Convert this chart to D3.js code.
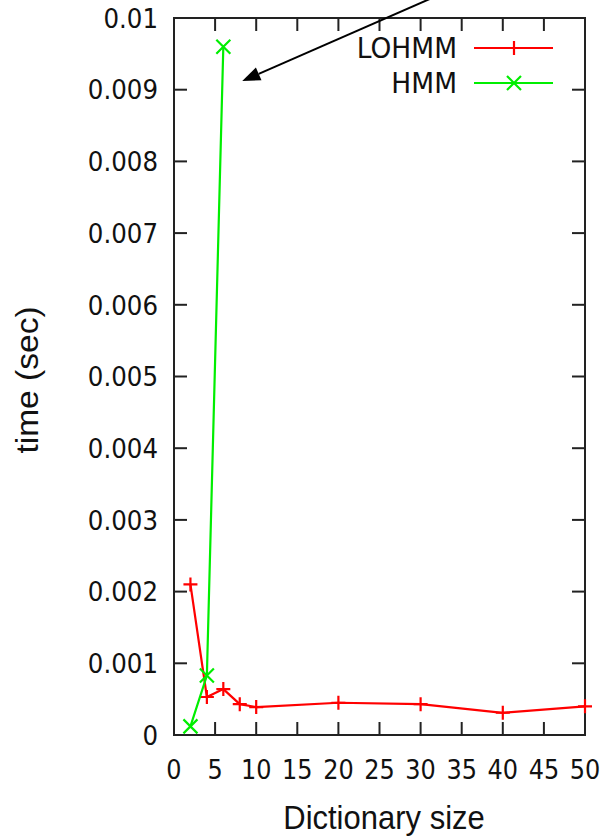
<!DOCTYPE html>
<html><head><meta charset="utf-8">
<script src="https://cdn.jsdelivr.net/npm/d3@7"></script>
<style>html,body{margin:0;padding:0;background:#fff}svg{display:block}</style>
</head><body>
<svg id="c" width="607" height="837"></svg>
<script>
const seriesNames = ["LOHMM", "HMM"];
const lohmmX = [2, 4, 6, 8, 10, 20, 30, 40, 50];
const lohmmY = [0.0021, 0.00053, 0.00064, 0.00043, 0.00039, 0.00045, 0.00043, 0.00031, 0.0004];
const hmmX = [2, 4, 6];
const hmmY = [0.00012, 0.00083, 0.0096];
const xTicks = [0, 5, 10, 15, 20, 25, 30, 35, 40, 45, 50];
const yTicks = [0, 0.001, 0.002, 0.003, 0.004, 0.005, 0.006, 0.007, 0.008, 0.009, 0.01];
const arrowFrom = [32.8, 0.01035];
const arrowTo = [8.3, 0.00912];

const svg = d3.select("#c");
const L = 174, R = 585, T = 18, B = 735;
const x = d3.scaleLinear().domain([0, 50]).range([L, R]);
const y = d3.scaleLinear().domain([0, 0.01]).range([B, T]);
const tickFont = "DejaVu Sans, sans-serif";
const titleFont = "Liberation Sans, Arial, sans-serif";
const sy = 1.1;
const axisColor = "#222";

function label(g, tx, ty, str, opts) {
  const t = g.append("text")
    .attr("transform", `translate(${tx},${ty}) ${opts.rot ? "rotate(-90) " : ""}scale(${opts.rot ? sy + ",1" : "1," + sy})`)
    .attr("text-anchor", opts.anchor || "middle")
    .attr("font-family", opts.font).attr("font-size", opts.size).attr("fill", "#111")
    .text(str);
  if (opts.dy) t.attr("dy", opts.dy);
  return t;
}

// frame
svg.append("rect").attr("x", L).attr("y", T).attr("width", R - L).attr("height", B - T)
  .attr("fill", "none").attr("stroke", axisColor).attr("stroke-width", 2);

const tl = 13;
const tg = svg.append("g").attr("stroke", axisColor).attr("stroke-width", 2);
xTicks.forEach(t => {
  if (t === 0 || t === 50) return;
  tg.append("line").attr("x1", x(t)).attr("x2", x(t)).attr("y1", B).attr("y2", B - tl);
  tg.append("line").attr("x1", x(t)).attr("x2", x(t)).attr("y1", T).attr("y2", T + tl);
});
yTicks.forEach(t => {
  if (t === 0 || t === 0.01) return;
  tg.append("line").attr("x1", L).attr("x2", L + tl).attr("y1", y(t)).attr("y2", y(t));
  tg.append("line").attr("x1", R).attr("x2", R - tl).attr("y1", y(t)).attr("y2", y(t));
});

// tick labels
const fmtY = v => v === 0 ? "0" : String(+v.toFixed(3));
const yl = svg.append("g");
yTicks.forEach(d => label(yl, L - 16, y(d), fmtY(d), { font: tickFont, size: 24.5, anchor: "end", dy: "0.36em" }));
const xl = svg.append("g");
xTicks.forEach(d => label(xl, x(d), 779, String(d), { font: tickFont, size: 24, anchor: "middle" }));

// axis titles
label(svg, 384, 829, "Dictionary size", { font: titleFont, size: 31 });
label(svg, 38, 380, "time (sec)", { font: titleFont, size: 30.5, rot: true });

// lines
const line = d3.line().x(d => x(d[0])).y(d => y(d[1]));
const lohmm = lohmmX.map((v, i) => [v, lohmmY[i]]);
const hmm = hmmX.map((v, i) => [v, hmmY[i]]);
const red = "#ff0000", green = "#00ee00";
const ms = 7;
function plus(g, px, py, c) {
  g.append("path").attr("d", `M${px - ms},${py}H${px + ms}M${px},${py - ms}V${py + ms}`)
    .attr("stroke", c).attr("stroke-width", 2.2).attr("fill", "none");
}
function cross(g, px, py, c) {
  g.append("path").attr("d", `M${px - ms},${py - ms}L${px + ms},${py + ms}M${px - ms},${py + ms}L${px + ms},${py - ms}`)
    .attr("stroke", c).attr("stroke-width", 2.2).attr("fill", "none");
}
const dg = svg.append("g");
dg.append("path").attr("d", line(lohmm)).attr("fill", "none").attr("stroke", red).attr("stroke-width", 2.2);
lohmm.forEach(d => plus(dg, x(d[0]), y(d[1]), red));
dg.append("path").attr("d", line(hmm)).attr("fill", "none").attr("stroke", green).attr("stroke-width", 2.2);
hmm.forEach(d => cross(dg, x(d[0]), y(d[1]), green));

// legend
const lg = svg.append("g");
[[seriesNames[0], red, plus, 48], [seriesNames[1], green, cross, 83]].forEach(([name, c, mk, ly]) => {
  label(lg, 457, ly, name, { font: tickFont, size: 26.5, anchor: "end", dy: "0.36em" });
  lg.append("line").attr("x1", 474).attr("x2", 553).attr("y1", ly).attr("y2", ly)
    .attr("stroke", c).attr("stroke-width", 2.2);
  mk(lg, 514, ly, c);
});

// arrow
const ax1 = x(arrowFrom[0]), ay1 = y(arrowFrom[1]), ax2 = x(arrowTo[0]), ay2 = y(arrowTo[1]);
const ang = Math.atan2(ay2 - ay1, ax2 - ax1);
const hl = 18, hw = 7;
const bx = ax2 - hl * Math.cos(ang), by = ay2 - hl * Math.sin(ang);
svg.append("line").attr("x1", ax1).attr("y1", ay1).attr("x2", bx).attr("y2", by)
  .attr("stroke", "#000").attr("stroke-width", 2);
svg.append("path").attr("d", `M${ax2},${ay2}L${bx + hw * Math.sin(ang)},${by - hw * Math.cos(ang)}L${bx - hw * Math.sin(ang)},${by + hw * Math.cos(ang)}Z`)
  .attr("fill", "#000");
</script>
</body></html>
